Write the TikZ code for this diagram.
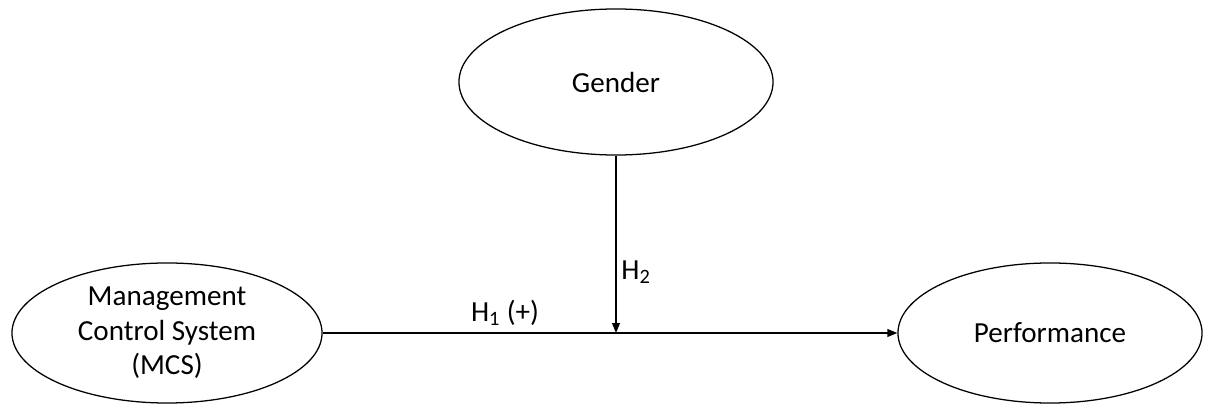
\documentclass[tikz,border=0pt]{standalone}
\usepackage{fontspec}
\setmainfont{Carlito}
\usetikzlibrary{shapes.geometric,arrows.meta}
\begin{document}
\begin{tikzpicture}[x=0.025cm,y=-0.025cm,
  latent/.style={ellipse,draw,line width=0.9pt,inner sep=0pt,align=center,
    font=\fontsize{20.7}{24.5}\selectfont},
  link/.style={line width=0.9pt,-{Triangle[length=7pt,width=5.5pt]}},
  hyp/.style={font=\fontsize{20.7}{24.5}\selectfont,inner sep=0pt}]
  \useasboundingbox (0,0) rectangle (1206,405);
  \node[latent,minimum width=7.75cm,minimum height=3.5cm] (mcs) at (167,333) {Management\\Control System\\(MCS)};
  \node[latent,minimum width=7.85cm,minimum height=3.65cm] (gender) at (616,82) {Gender};
  \node[latent,minimum width=7.6cm,minimum height=3.5cm] (perf) at (1050,333) {Performance};
  \coordinate (mod) at (gender.south |- mcs.east);
  \draw[link] (mcs.east) -- (perf.west);
  \draw[link] (gender.south) -- (mod);
  \node[hyp] (h1) at (505,313) {H\textsubscript{1} (+)};
  \node[hyp] (h2) at (636,272) {H\textsubscript{2}};
\end{tikzpicture}
\end{document}
